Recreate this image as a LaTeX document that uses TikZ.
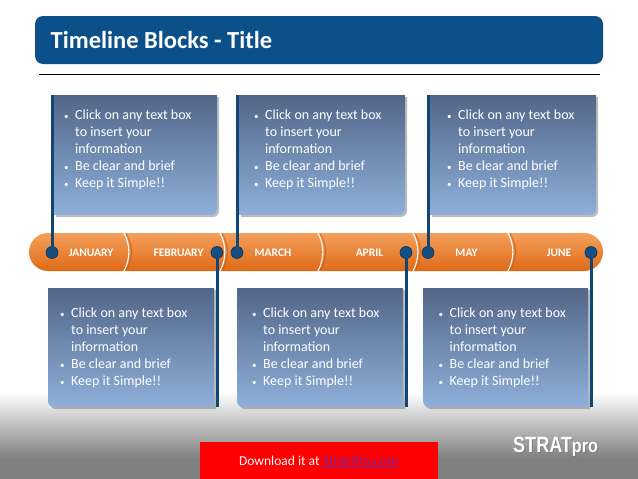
\documentclass[tikz,border=0pt]{standalone}
\usepackage{fontspec}
\setmainfont{Carlito}
\newfontfamily\logofont{Liberation Sans}
\usepackage{graphicx}
\usetikzlibrary{calc}
\definecolor{titleblue}{RGB}{12,80,138}
\definecolor{boxtop}{RGB}{82,102,136}
\definecolor{boxbot}{RGB}{142,176,218}
\definecolor{lineblue}{RGB}{16,70,118}
\definecolor{dotblue}{RGB}{20,78,130}
\definecolor{dotdark}{RGB}{10,50,90}
\definecolor{orTop}{RGB}{244,160,92}
\definecolor{orMid}{RGB}{234,122,36}
\definecolor{orBot}{RGB}{222,106,22}
\definecolor{orDark}{RGB}{196,88,16}
\definecolor{bggray}{RGB}{128,128,128}
\definecolor{shadowgray}{RGB}{90,90,90}
\definecolor{linkcol}{RGB}{104,40,176}
\newcommand{\bltext}{%
\makebox[11pt][l]{\small•}Click on any text box\\
\hspace*{11pt}to insert your\\
\hspace*{11pt}information\\
\makebox[11pt][l]{\small•}Be clear and brief\\
\makebox[11pt][l]{\small•}Keep it Simple!!}
\tikzset{
  boxtext/.style={anchor=north west, inner sep=0, align=left, text=white,
    font=\fontsize{14}{17}\selectfont},
  month/.style={text=white, inner sep=0, font=\fontsize{11.5}{12}\selectfont\bfseries},
  dot/.style={circle, fill=dotblue, draw=dotdark, line width=0.6pt, minimum size=12pt, inner sep=0},
  conn/.style={draw=lineblue, line width=3pt},
  boxshadow/.style={fill=shadowgray, opacity=0.4},
  boxshade/.style={top color=boxtop, bottom color=boxbot},
}
\begin{document}
\begin{tikzpicture}[x=1pt,y=1pt]
\useasboundingbox (0,0) rectangle (638,-479);
% background
\fill[white] (0,0) rectangle (638,-479);
\shade[top color=white, bottom color=bggray] (0,-392) rectangle (638,-458);
\fill[bggray] (0,-458) rectangle (638,-479);
% title
\fill[titleblue, rounded corners=8pt] (35,-16) rectangle (603,-64);
\node[anchor=base west, inner sep=0, text=white, font=\fontsize{24.5}{28}\selectfont\bfseries] (title) at (50.5,-48.3) {Timeline Blocks - Title};
\draw[line width=0.9pt] (39,-74) -- (600,-74);
% timeline bar
\shade[rounded corners=19pt, top color=orTop, middle color=orMid, bottom color=orBot] (29,-233) rectangle (603,-271);
\foreach \x in {126,222,320,415,510} {
  \draw[orDark, line width=1.2pt, opacity=0.6] (\x+0.5,-234) .. controls (\x+7,-246) and (\x+7,-258) .. (\x+0.5,-270);
  \draw[white, line width=1.1pt] (\x-2,-233) .. controls (\x+4.5,-245) and (\x+4.5,-259) .. (\x-2,-271);
}
\node[month] (m1) at (91,-253) {JANUARY};
\node[month] (m2) at (178.5,-253) {FEBRUARY};
\node[month] (m3) at (273,-253) {MARCH};
\node[month] (m4) at (369.5,-253) {APRIL};
\node[month] (m5) at (466.5,-253) {MAY};
\node[month] (m6) at (559,-253) {JUNE};
% top boxes
\foreach \a/\b in {54/217, 239/405, 430/596} {
  \fill[boxshadow] (\a+2,-97) -- (\b+2,-97) -- (\b+2,-211) arc[start angle=0,end angle=-90,radius=6] -- (\a+2,-217) -- cycle;
  \shade[boxshade] (\a,-95) -- (\b,-95) -- (\b,-209) arc[start angle=0,end angle=-90,radius=6] -- (\a,-215) -- cycle;
}
% bottom boxes
\foreach \a/\b in {48/214, 237/403, 423/588} {
  \fill[boxshadow] (\a+2,-290) -- (\b+2,-290) -- (\b+2,-409) -- (\a+8,-409) arc[start angle=270,end angle=180,radius=6] -- cycle;
  \shade[boxshade] (\a,-288) -- (\b,-288) -- (\b,-407) -- (\a+6,-407) arc[start angle=270,end angle=180,radius=6] -- cycle;
}
% dots
\node[dot] (d1) at (52,-252.5) {};
\node[dot] (d2) at (217,-252.5) {};
\node[dot] (d3) at (237,-252.5) {};
\node[dot] (d4) at (406,-252.5) {};
\node[dot] (d5) at (428,-252.5) {};
\node[dot] (d6) at (591,-252.5) {};
% connector ends
\coordinate (e1) at (52,-95);
\coordinate (e2) at (217,-407);
\coordinate (e3) at (237,-95);
\coordinate (e4) at (406,-407);
\coordinate (e5) at (428,-95);
\coordinate (e6) at (591,-407);
\foreach \i in {1,...,6} { \draw[conn] (e\i) -- (d\i); }
% texts
\node[boxtext] (t1) at (64,-110) {\bltext};
\node[boxtext] (t2) at (254,-110) {\bltext};
\node[boxtext] (t3) at (447,-110) {\bltext};
\node[boxtext] (t4) at (60,-308) {\bltext};
\node[boxtext] (t5) at (252,-308) {\bltext};
\node[boxtext] (t6) at (438.5,-308) {\bltext};
% footer
\fill[red] (200,-442) rectangle (438,-479);
\node[anchor=base, inner sep=0, text=white, font=\fontsize{13.5}{15}\selectfont] (dl) at (318.5,-465) {Download it at \textcolor{linkcol}{\underline{Strat-Pro.com}}};
\node[anchor=base west, inner sep=0, text=black!55, opacity=0.7] (logoshadow) at (514,-453.5) {\logofont\bfseries\fontsize{22}{22}\selectfont\scalebox{0.82}[1]{STRAT}\fontsize{19}{19}\selectfont\scalebox{0.85}[1]{pro}};
\node[anchor=base west, inner sep=0, text=white] (logo) at (513,-452) {\logofont\bfseries\fontsize{22}{22}\selectfont\scalebox{0.82}[1]{STRAT}\fontsize{19}{19}\selectfont\scalebox{0.85}[1]{pro}};
\end{tikzpicture}
\end{document}
